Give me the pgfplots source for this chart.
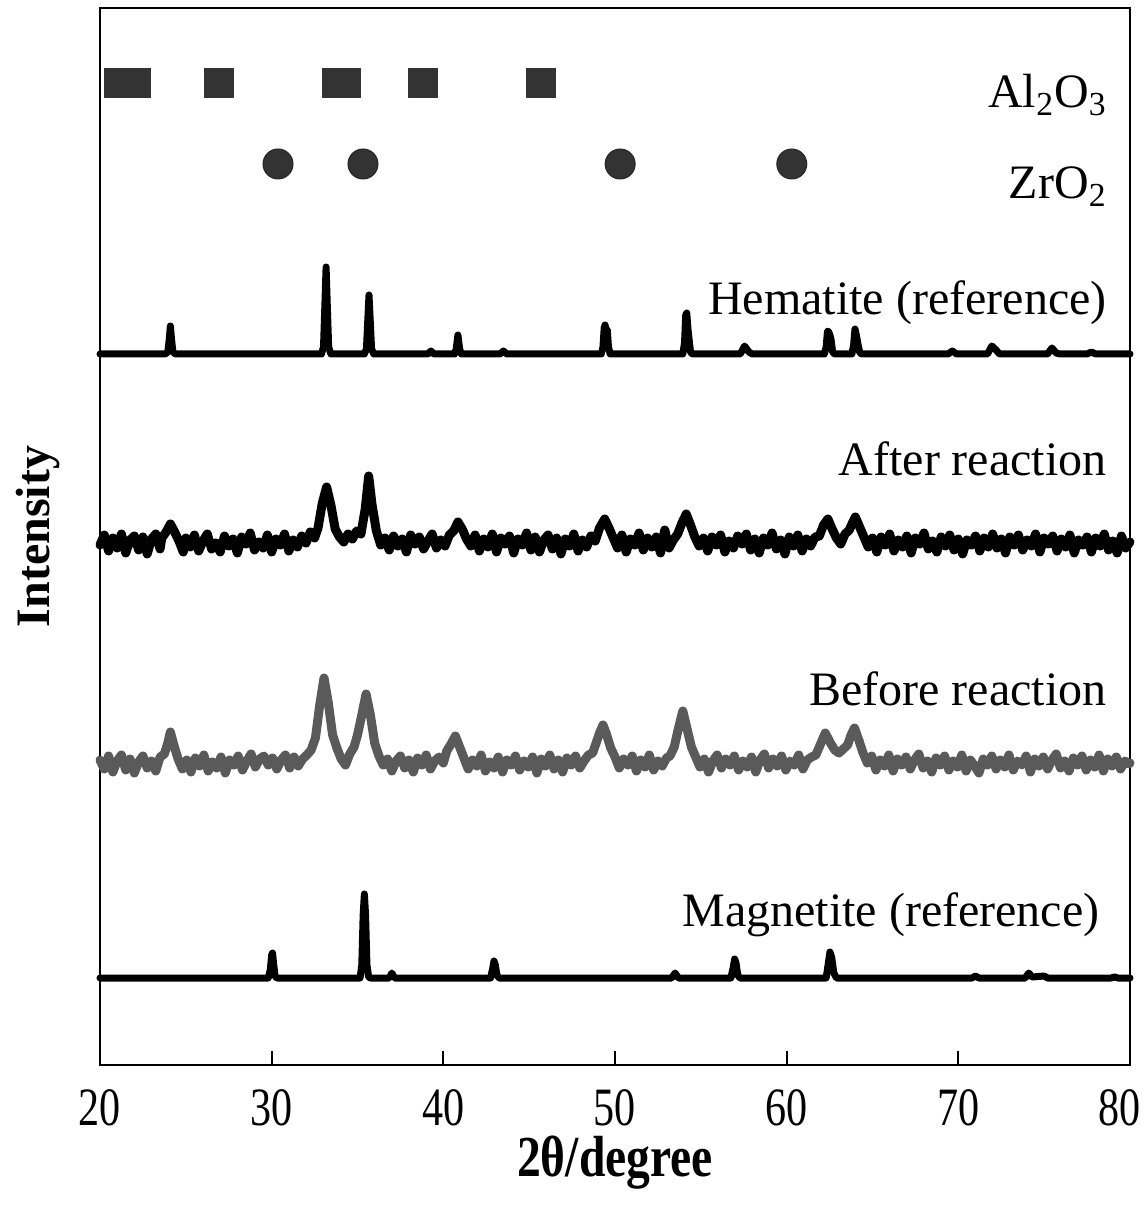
\documentclass[border=0pt]{standalone}
\usepackage{fontspec}
\setmainfont{Liberation Serif}
\usepackage{pgfplots}
\pgfplotsset{compat=1.18}
\definecolor{mkgray}{HTML}{333333}
\definecolor{befgray}{HTML}{5A5A5A}

\begin{document}
\begin{tikzpicture}
\useasboundingbox (-50pt,-70pt) rectangle (522pt,532.5pt);
\begin{axis}[
  scale only axis,
  width=515pt, height=528.5pt,
  xmin=20, xmax=80, ymin=0, ymax=1057,
  xtick={20,30,...,80},
  xticklabels={20,30,40,50,60,70,{80\phantom{0}}},
  ytick=\empty,
  xtick pos=lower,
  tick align=inside,
  major tick length=7pt,
  every tick/.style={black, line width=0.9pt},
  axis line style={line width=1pt},
  /pgf/number format/assume math mode=true,
  xticklabel style={font=\fontsize{27}{29}\selectfont, xscale=0.78, inner sep=1pt, yshift=-11pt},
  xlabel={\textbf{2θ/degree}},
  xlabel style={font=\fontsize{29}{31}\selectfont, xscale=0.82, inner sep=0pt,
    at={(axis description cs:0.5,-0.067)}, anchor=north},
  ylabel={\textbf{Intensity}},
  ylabel style={font=\fontsize{24}{28}\selectfont, at={(axis description cs:-0.032,0.5)}, anchor=south},
  clip=false,
  every axis plot/.append style={line cap=round, line join=round},
]
% Al2O3 and ZrO2 markers
\addplot[only marks, mark=square*, mark size=7.25pt, mark options={fill=mkgray, draw=mkgray}]
  coordinates {(21.1,982.5) (22.1,982.5) (26.93,982.5) (33.8,982.5) (34.3,982.5) (38.8,982.5) (45.7,982.5)};
\addplot[only marks, mark=*, mark size=7.5pt, mark options={fill=mkgray, draw=black!85, line width=0.5pt}]
  coordinates {(30.37,901) (35.32,901) (50.3,901) (60.3,901)};

% Hematite (reference)
\addplot[black, line width=3.5pt] coordinates {
(20,711) (23.8,711) (23.95,713) (24.03,725) (24.1,739) (24.17,725) (24.25,713) (24.4,711)
(32.9,711) (33.02,718) (33.1,760) (33.17,798) (33.24,760) (33.32,718) (33.45,711)
(35.4,711) (35.52,716) (35.6,745) (35.67,770) (35.74,745) (35.82,716) (35.95,711)
(39.1,711) (39.28,714) (39.45,711)
(40.65,711) (40.75,716) (40.85,730) (40.95,716) (41.05,711)
(43.3,711) (43.5,714) (43.7,711)
(49.2,711) (49.3,718) (49.37,737) (49.42,740) (49.5,733) (49.55,735) (49.62,718) (49.72,711)
(53.95,711) (54.05,722) (54.12,750) (54.18,752) (54.25,736) (54.32,725) (54.4,713) (54.5,711)
(57.3,711) (57.55,719) (57.8,713) (58,711)
(62.2,711) (62.3,718) (62.38,734) (62.45,733) (62.52,730) (62.58,726) (62.68,713) (62.78,711)
(63.8,711) (63.9,720) (63.98,736) (64.06,730) (64.14,722) (64.25,713) (64.35,711)
(69.4,711) (69.65,714) (69.9,711)
(71.7,711) (71.95,719) (72.2,715) (72.4,711)
(75.2,711) (75.45,717) (75.7,712) (75.9,711)
(77.5,711) (77.75,713) (78,711) (80,711)
};

% After reaction
\addplot[black, line width=4.5pt] coordinates {
(20.00,520) (20.25,530) (20.50,514) (20.75,527) (21.00,517) (21.25,531) (21.50,512) (21.75,525)
(22.00,529) (22.25,515) (22.50,528) (22.75,511) (23.00,526) (23.25,531) (23.50,516) (23.60,527)
(23.85,533) (24.10,541) (24.35,533) (24.60,524) (24.85,513) (25.00,527) (25.25,518) (25.50,530)
(25.75,514) (26.00,524) (26.25,531) (26.50,516) (26.75,522) (27.00,513) (27.25,529) (27.50,519)
(27.75,526) (28.00,512) (28.25,528) (28.50,521) (28.75,532) (29.00,515) (29.25,523) (29.50,517)
(29.75,530) (30.00,513) (30.25,526) (30.50,520) (30.75,531) (31.00,514) (31.25,525) (31.50,518)
(31.75,529) (32.00,522) (32.25,533) (32.50,527) (32.70,537) (32.95,562) (33.20,578) (33.45,560)
(33.70,536) (33.95,528) (34.20,523) (34.45,531) (34.70,526) (34.95,534) (35.20,531) (35.45,556)
(35.65,589) (35.85,560) (36.10,534) (36.35,520) (36.60,527) (36.85,515) (37.10,529) (37.35,519)
(37.60,526) (37.85,513) (38.10,530) (38.35,521) (38.60,528) (38.85,516) (39.10,524) (39.35,531)
(39.60,517) (39.85,525) (40.10,519) (40.35,530) (40.60,534) (40.85,543) (41.10,536) (41.35,526)
(41.60,519) (41.85,530) (42.10,514) (42.35,526) (42.60,518) (42.85,531) (43.10,513) (43.35,527)
(43.60,521) (43.85,529) (44.10,512) (44.35,526) (44.60,520) (44.85,532) (45.10,515) (45.35,528)
(45.60,513) (45.85,525) (46.10,530) (46.35,516) (46.60,527) (46.85,511) (47.10,526) (47.35,519)
(47.60,531) (47.85,514) (48.10,525) (48.35,518) (48.60,529) (48.85,524) (49.10,537) (49.40,546)
(49.65,537) (49.90,527) (50.15,517) (50.40,530) (50.65,513) (50.90,526) (51.15,520) (51.40,532)
(51.65,515) (51.90,527) (52.15,518) (52.40,528) (52.65,512) (52.90,535) (53.15,517) (53.40,525)
(53.65,531) (53.90,542) (54.15,551) (54.40,540) (54.65,528) (54.90,519) (55.15,527) (55.40,514)
(55.65,528) (55.90,520) (56.15,530) (56.40,513) (56.65,524) (56.90,517) (57.15,529) (57.40,521)
(57.65,531) (57.90,515) (58.15,526) (58.40,512) (58.65,527) (58.90,520) (59.15,532) (59.40,516)
(59.65,525) (59.90,511) (60.15,528) (60.40,519) (60.65,530) (60.90,514) (61.15,526) (61.40,519)
(61.65,528) (61.90,529) (62.15,540) (62.40,546) (62.65,536) (62.90,527) (63.15,521) (63.40,531)
(63.65,535) (63.80,541) (64.00,548) (64.25,538) (64.50,528) (64.75,518) (65.00,527) (65.25,513)
(65.50,528) (65.75,520) (66.00,531) (66.25,514) (66.50,525) (66.75,518) (67.00,529) (67.25,512)
(67.50,527) (67.75,521) (68.00,532) (68.25,516) (68.50,524) (68.75,513) (69.00,528) (69.25,519)
(69.50,530) (69.75,515) (70.00,526) (70.25,511) (70.50,525) (70.75,520) (71.00,529) (71.25,514)
(71.50,527) (71.75,518) (72.00,531) (72.25,517) (72.50,526) (72.75,512) (73.00,528) (73.25,520)
(73.50,530) (73.75,515) (74.00,525) (74.25,519) (74.50,531) (74.75,513) (75.00,527) (75.25,521)
(75.50,529) (75.75,514) (76.00,526) (76.25,518) (76.50,530) (76.75,512) (77.00,525) (77.25,520)
(77.50,528) (77.75,513) (78.00,527) (78.25,519) (78.50,531) (78.75,515) (79.00,524) (79.25,512)
(79.50,529) (79.75,517) (80.00,523)
};

% Before reaction
\addplot[befgray, line width=4.5pt] coordinates {
(20.00,305) (20.25,296) (20.50,309) (20.75,293) (21.00,304) (21.25,310) (21.50,295) (21.75,306)
(22.00,292) (22.25,303) (22.50,309) (22.75,297) (23.00,304) (23.25,294) (23.50,308) (23.75,311)
(23.95,322) (24.10,333) (24.30,320) (24.55,306) (24.80,296) (25.05,305) (25.30,293) (25.55,307)
(25.80,299) (26.05,310) (26.30,294) (26.55,303) (26.80,297) (27.05,308) (27.30,292) (27.55,305)
(27.80,300) (28.05,309) (28.30,295) (28.55,304) (28.80,311) (29.05,298) (29.30,306) (29.55,309)
(29.80,300) (30.05,307) (30.30,296) (30.55,305) (30.80,310) (31.05,297) (31.30,308) (31.55,299)
(31.80,306) (32.05,310) (32.30,315) (32.55,327) (32.80,360) (33.05,387) (33.30,362) (33.55,330)
(33.80,317) (34.05,306) (34.30,300) (34.55,311) (34.80,318) (35.00,330) (35.25,350) (35.50,371)
(35.75,350) (36.00,322) (36.25,309) (36.50,300) (36.75,306) (37.00,294) (37.25,304) (37.50,309)
(37.75,297) (38.00,305) (38.25,293) (38.50,307) (38.75,300) (39.00,310) (39.25,296) (39.50,304)
(39.75,308) (40.00,302) (40.20,314) (40.45,321) (40.70,329) (40.95,318) (41.20,307) (41.45,296)
(41.70,305) (41.95,299) (42.20,310) (42.45,294) (42.70,303) (42.95,297) (43.20,308) (43.45,293)
(43.70,305) (43.95,300) (44.20,309) (44.45,295) (44.70,304) (44.95,298) (45.20,308) (45.45,292)
(45.70,306) (45.95,299) (46.20,310) (46.45,296) (46.70,305) (46.95,293) (47.20,307) (47.45,300)
(47.70,309) (47.95,297) (48.20,304) (48.45,310) (48.70,312) (48.90,322) (49.10,332) (49.30,340)
(49.50,331) (49.75,317) (50.00,308) (50.25,297) (50.50,306) (50.75,300) (51.00,309) (51.25,294)
(51.50,305) (51.75,298) (52.00,310) (52.25,295) (52.50,304) (52.75,299) (53.00,307) (53.20,309)
(53.45,318) (53.70,337) (53.95,354) (54.20,336) (54.45,318) (54.70,308) (54.95,298) (55.20,306)
(55.45,293) (55.70,304) (55.95,310) (56.20,297) (56.45,306) (56.70,300) (56.95,309) (57.20,295)
(57.45,304) (57.70,298) (57.95,308) (58.20,293) (58.45,305) (58.70,311) (58.95,297) (59.20,306)
(59.45,299) (59.70,309) (59.95,295) (60.20,304) (60.45,300) (60.70,310) (60.95,296) (61.20,305)
(61.45,308) (61.70,310) (61.95,320) (62.25,332) (62.55,322) (62.80,315) (63.05,312) (63.30,316)
(63.55,320) (63.75,330) (63.95,337) (64.20,325) (64.45,312) (64.70,302) (64.95,309) (65.20,295)
(65.45,305) (65.70,299) (65.95,310) (66.20,294) (66.45,306) (66.70,300) (66.95,308) (67.20,296)
(67.45,305) (67.70,311) (67.95,297) (68.20,304) (68.45,293) (68.70,307) (68.95,300) (69.20,309)
(69.45,295) (69.70,304) (69.95,298) (70.20,310) (70.45,294) (70.70,305) (70.95,299) (71.20,292)
(71.45,306) (71.70,300) (71.95,309) (72.20,296) (72.45,305) (72.70,298) (72.95,310) (73.20,295)
(73.45,304) (73.70,300) (73.95,309) (74.20,293) (74.45,306) (74.70,299) (74.95,308) (75.20,296)
(75.45,305) (75.70,311) (75.95,297) (76.20,304) (76.45,294) (76.70,307) (76.95,300) (77.20,309)
(77.45,295) (77.70,305) (77.95,298) (78.20,310) (78.45,294) (78.70,306) (78.95,299) (79.20,308)
(79.45,296) (79.70,304) (79.95,301) (80.00,302)
};

% Magnetite (reference)
\addplot[black, line width=3.5pt] coordinates {
(20,87) (29.8,87) (29.92,95) (30.0,110) (30.05,112) (30.12,100) (30.2,89) (30.3,87)
(35.15,87) (35.25,100) (35.33,150) (35.4,171) (35.47,150) (35.55,100) (35.65,88) (35.75,87)
(36.85,87) (37.0,92) (37.15,87)
(42.75,87) (42.87,96) (42.95,104) (43.03,100) (43.12,90) (43.25,87)
(53.3,87) (53.5,92) (53.7,87)
(56.75,87) (56.88,97) (56.97,106) (57.05,102) (57.15,90) (57.28,87)
(62.3,87) (62.43,102) (62.52,113) (62.62,108) (62.75,92) (62.9,87)
(70.8,87) (71,89) (71.2,87)
(73.9,87) (74.1,92) (74.3,88) (75.0,89) (75.2,87)
(78.9,87) (79.1,88) (79.3,87) (80,87)
};

% labels
\begin{scope}[every node/.style={font=\fontsize{24}{28}\selectfont, anchor=base east, inner sep=0pt}]
\node at (axis cs:78.66,957) {Al\textsubscript{2}O\textsubscript{3}};
\node at (axis cs:78.66,866) {ZrO\textsubscript{2}};
\node at (axis cs:78.66,750) {Hematite (reference)};
\node at (axis cs:78.66,589) {After reaction};
\node at (axis cs:78.66,359) {Before reaction};
\node at (axis cs:78.25,138) {Magnetite (reference)};
\end{scope}
\end{axis}
\end{tikzpicture}
\end{document}
